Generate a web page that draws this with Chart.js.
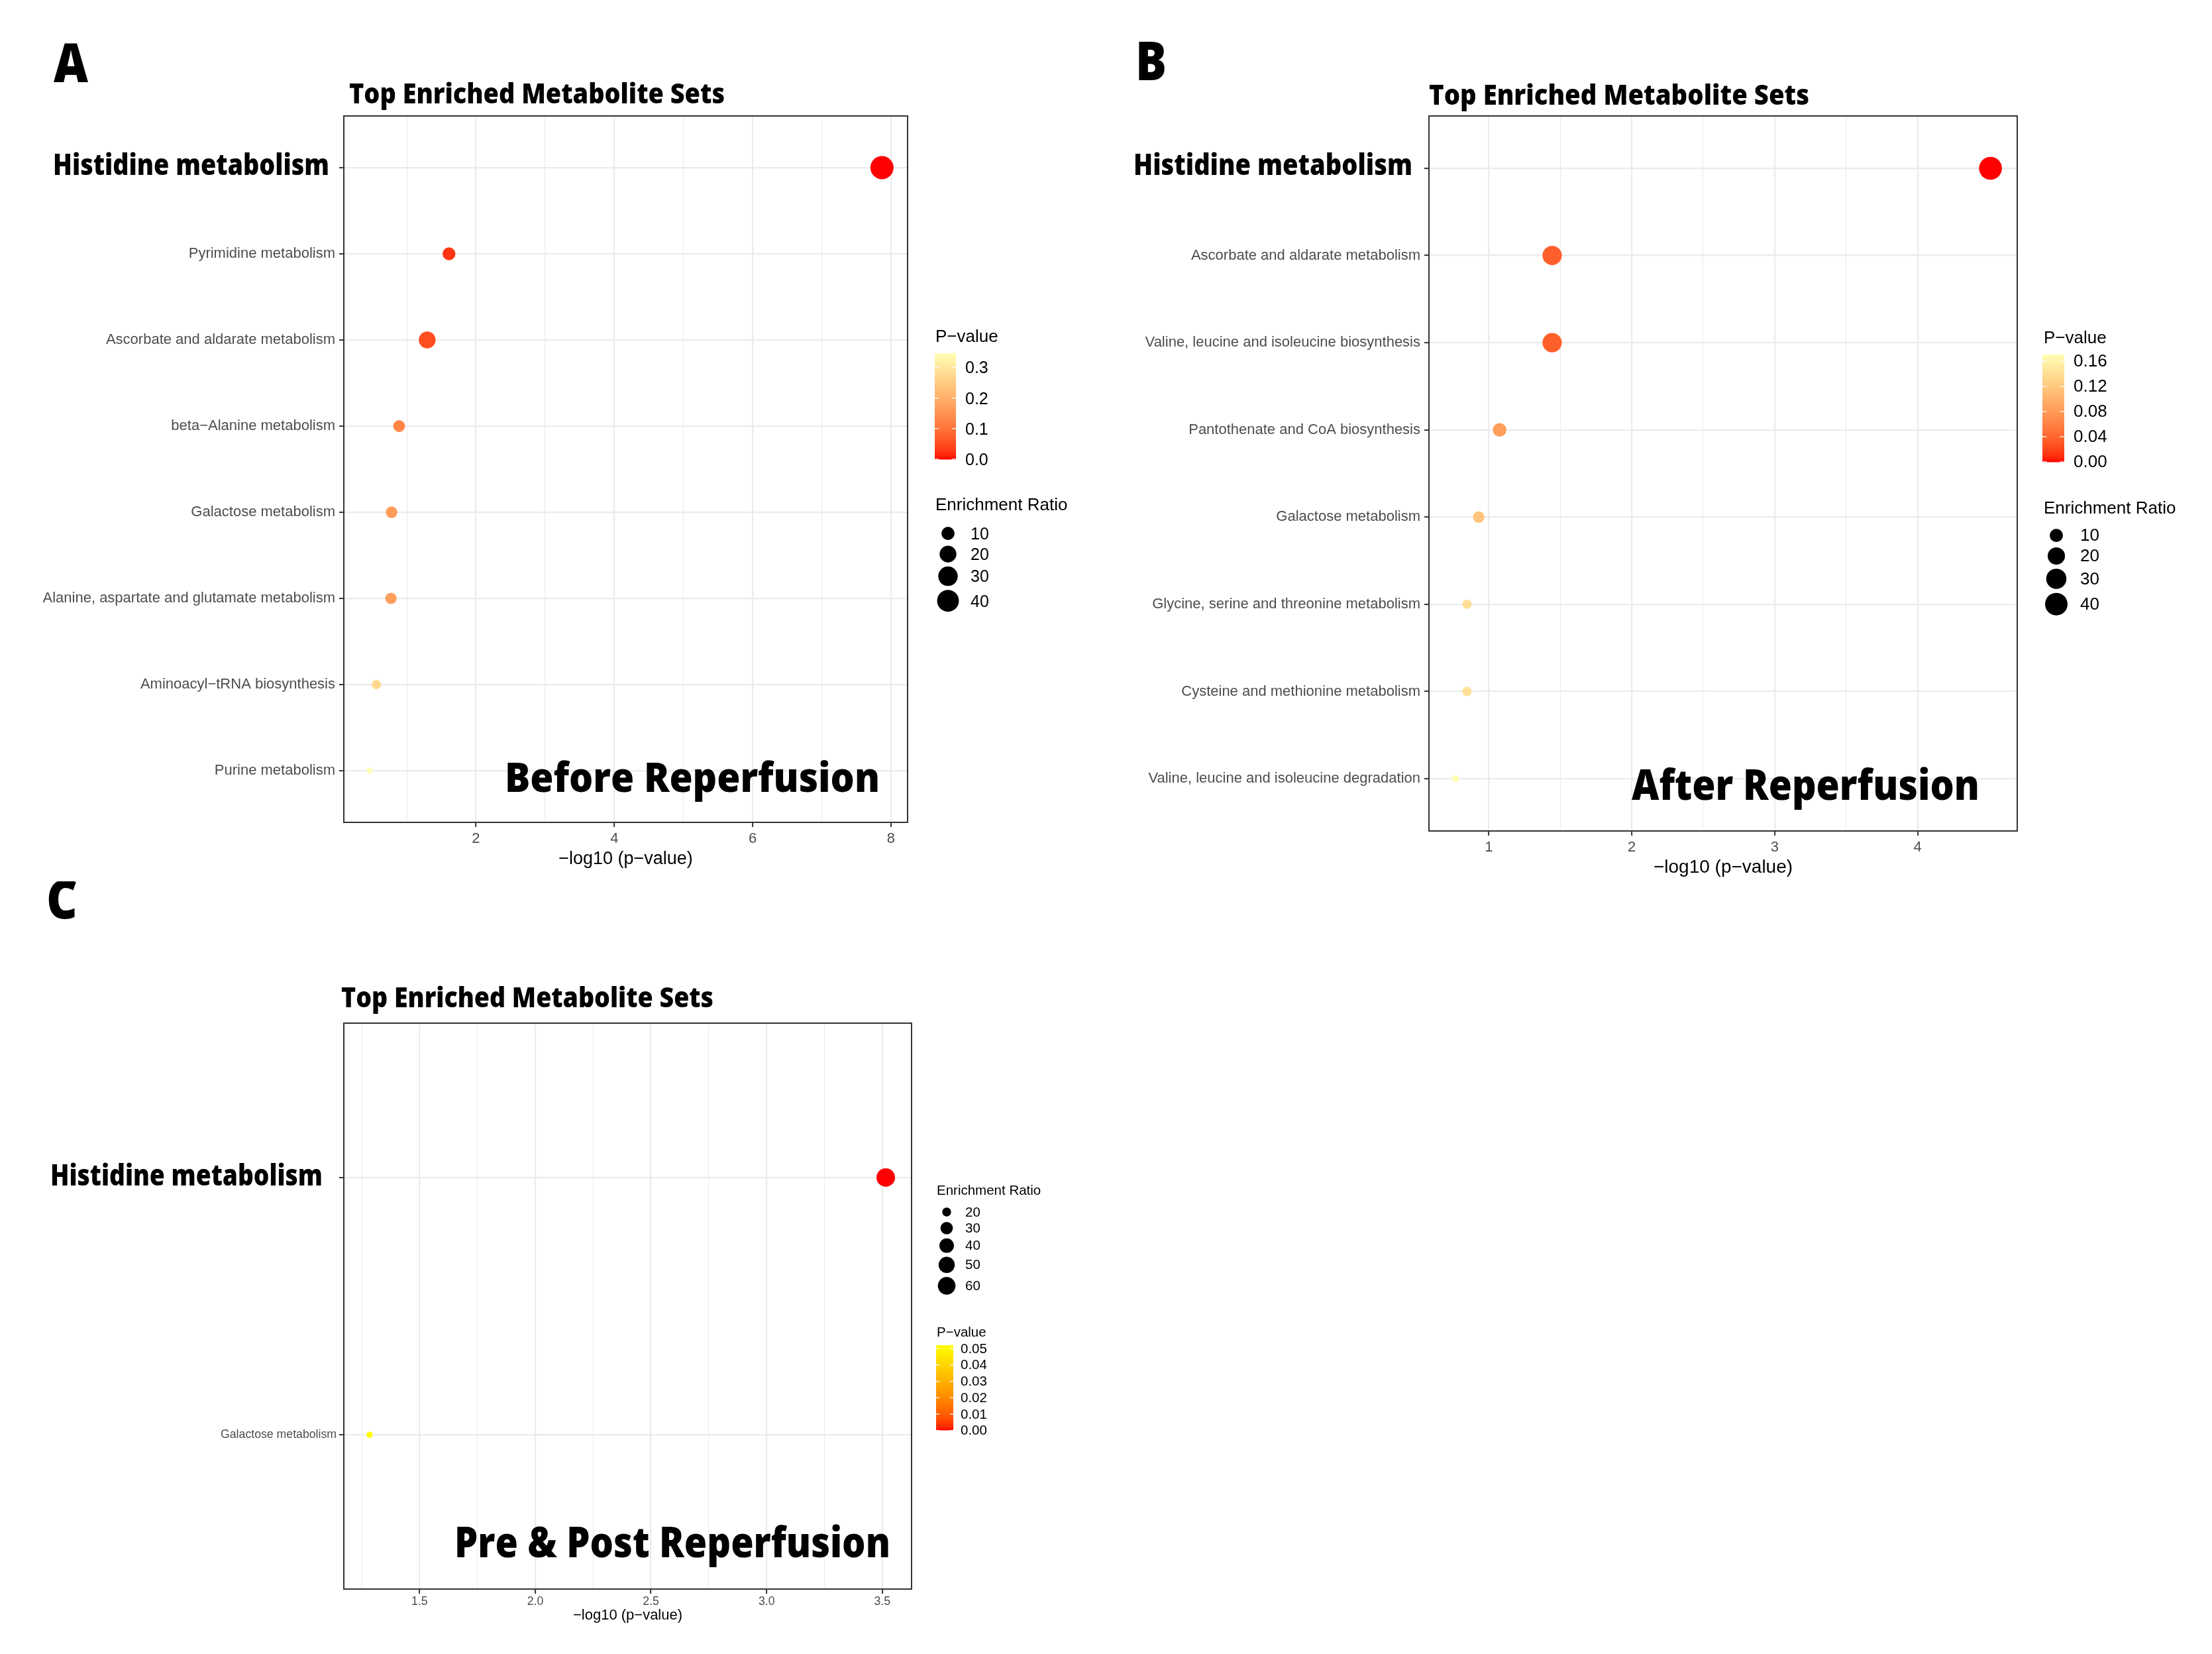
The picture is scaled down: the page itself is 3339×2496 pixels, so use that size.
<!DOCTYPE html>
<html>
<head>
<meta charset="utf-8">
<script src="https://cdn.jsdelivr.net/npm/chart.js@4.4.1/dist/chart.umd.min.js"></script>
<style>
  body { margin: 0; background: #fff; }
  #page { position: relative; width: 3339px; height: 2496px; overflow: hidden; background: #fff; }
  canvas { position: absolute; }
</style>
</head>
<body>
<div id="page">
  <canvas id="chartA" width="1669" height="1330" style="left:0px;top:0px"></canvas>
  <canvas id="chartB" width="1670" height="1340" style="left:1669px;top:0px"></canvas>
  <canvas id="chartC" width="1669" height="1166" style="left:0px;top:1330px"></canvas>
</div>
<script>
// data //////////////////////////////////////////////////////////////////////
// A : before reperfusion
const setsA = [
  'Histidine metabolism',
  'Pyrimidine metabolism',
  'Ascorbate and aldarate metabolism',
  'beta−Alanine metabolism',
  'Galactose metabolism',
  'Alanine, aspartate and glutamate metabolism',
  'Aminoacyl−tRNA biosynthesis',
  'Purine metabolism',
];
const logpA = [7.87, 1.61, 1.295, 0.889, 0.78, 0.771, 0.56, 0.46];
const enrichA = [47, 9.4, 20.1, 7.5, 6.8, 6.6, 3.6, 1.6];
const xTicksA = [2, 4, 6, 8];
const xLabelsA = ['2', '4', '6', '8'];
const xMinorA = [1, 3, 5, 7];
const pBreaksA = [0, 0.1, 0.2, 0.3];
const pLabelsA = ['0.0', '0.1', '0.2', '0.3'];
const sizeBreaksA = [10, 20, 30, 40];

// B : after reperfusion
const setsB = [
  'Histidine metabolism',
  'Ascorbate and aldarate metabolism',
  'Valine, leucine and isoleucine biosynthesis',
  'Pantothenate and CoA biosynthesis',
  'Galactose metabolism',
  'Glycine, serine and threonine metabolism',
  'Cysteine and methionine metabolism',
  'Valine, leucine and isoleucine degradation',
];
const logpB = [4.51, 1.443, 1.443, 1.075, 0.929, 0.847, 0.847, 0.768];
const enrichB = [41.8, 26.8, 26.8, 10.7, 7.2, 5.0, 5.0, 4.2];
const xTicksB = [1, 2, 3, 4];
const xLabelsB = ['1', '2', '3', '4'];
const xMinorB = [1.5, 2.5, 3.5];
const pBreaksB = [0, 0.04, 0.08, 0.12, 0.16];
const pLabelsB = ['0.00', '0.04', '0.08', '0.12', '0.16'];
const sizeBreaksB = [10, 20, 30, 40];

// C : pre & post
const setsC = ['Histidine metabolism', 'Galactose metabolism'];
const logpC = [3.515, 1.284];
const enrichC = [67, 17.7];
const xTicksC = [1.5, 2.0, 2.5, 3.0, 3.5];
const xLabelsC = ['1.5', '2.0', '2.5', '3.0', '3.5'];
const xMinorC = [1.25, 1.75, 2.25, 2.75, 3.25];
const pBreaksC = [0, 0.01, 0.02, 0.03, 0.04, 0.05];
const pLabelsC = ['0.00', '0.01', '0.02', '0.03', '0.04', '0.05'];
const sizeBreaksC = [20, 30, 40, 50, 60];

// helpers ///////////////////////////////////////////////////////////////////
const SANS = '"Liberation Sans", Arial, Helvetica, sans-serif';
const BOLD = '"Open Sans", "Liberation Sans", sans-serif';
const GRID = '#EBEBEB';
const DARK = '#333333';

// ggplot-like gradient, interpolated in Lab
function hexRgb(h) {
  return [1, 3, 5].map((i) => parseInt(h.substr(i, 2), 16));
}
function toLab(rgb) {
  const [r, g, b] = rgb.map((c) => {
    c /= 255;
    return c <= 0.04045 ? c / 12.92 : Math.pow((c + 0.055) / 1.055, 2.4);
  });
  const X = (0.4124 * r + 0.3576 * g + 0.1805 * b) / 0.95047;
  const Y = 0.2126 * r + 0.7152 * g + 0.0722 * b;
  const Z = (0.0193 * r + 0.1192 * g + 0.9505 * b) / 1.08883;
  const f = (t) => (t > 0.008856 ? Math.cbrt(t) : 7.787 * t + 16 / 116);
  const fx = f(X), fy = f(Y), fz = f(Z);
  return [116 * fy - 16, 500 * (fx - fy), 200 * (fy - fz)];
}
function fromLab([L, a, b]) {
  const fy = (L + 16) / 116, fx = fy + a / 500, fz = fy - b / 200;
  const fi = (t) => (t * t * t > 0.008856 ? t * t * t : (t - 16 / 116) / 7.787);
  const X = fi(fx) * 0.95047, Y = fi(fy), Z = fi(fz) * 1.08883;
  const r = 3.2406 * X - 1.5372 * Y - 0.4986 * Z;
  const g = -0.9689 * X + 1.8758 * Y + 0.0415 * Z;
  const bl = 0.0557 * X - 0.204 * Y + 1.057 * Z;
  const c = (v) => {
    v = v <= 0.0031308 ? 12.92 * v : 1.055 * Math.pow(v, 1 / 2.4) - 0.055;
    return Math.round(Math.min(1, Math.max(0, v)) * 255);
  };
  return `rgb(${c(r)},${c(g)},${c(bl)})`;
}
function makeRamp(low, high) {
  const a = toLab(hexRgb(low)), b = toLab(hexRgb(high));
  return (t) => fromLab(a.map((v, i) => v + (b[i] - v) * Math.min(1, Math.max(0, t))));
}

// bold condensed text, squeezed to the width it has in the figure
function fitText(ctx, text, x, y, w, size, align) {
  ctx.save();
  ctx.font = `800 ${size}px ${BOLD}`;
  ctx.fillStyle = '#000';
  ctx.textBaseline = 'alphabetic';
  ctx.textAlign = align || 'left';
  const m = ctx.measureText(text).width;
  ctx.translate(x, y);
  ctx.scale(w / m, 1);
  ctx.fillText(text, 0, 0);
  ctx.restore();
}

// 패널 하나 그리기
function makePanel(id, sets, logp, enrich, o) {
  const pv = logp.map((x) => Math.pow(10, -x));
  const pmin = Math.min(...pv), pmax = Math.max(...pv);
  const emin = Math.min(...enrich), emax = Math.max(...enrich);
  const ramp = makeRamp('#FF0000', o.high);
  const colour = (p) => ramp((p - pmin) / (pmax - pmin));
  const radius = (v) =>
    o.rMin + (o.rMax - o.rMin) * Math.sqrt(Math.max(0, (v - emin) / (emax - emin)));

  const lo = Math.min(...logp), hi = Math.max(...logp);
  const pad = 0.05 * (hi - lo);
  const xAll = o.xTicks.concat(o.xMinor);
  const isMajor = (v) => o.xTicks.some((t) => Math.abs(t - v) < 1e-9);

  const a = o.area;
  const axisH = o.axisTitleY - a.bottom + (o.axisTitleSize * 1.2) / 2;

  const decor = {
    id: 'decor_' + id,
    afterDatasetsDraw(chart) {
      const { ctx, chartArea: ca } = chart;
      ctx.save();
      ctx.strokeStyle = DARK;
      ctx.lineWidth = 2;
      ctx.strokeRect(ca.left, ca.top, ca.right - ca.left, ca.bottom - ca.top);
      ctx.restore();
    },
    afterDraw(chart) {
      const ctx = chart.ctx;
      fitText(ctx, o.letter.text, o.letter.x, o.letter.y, o.letter.w, o.letter.size);
      fitText(ctx, 'Top Enriched Metabolite Sets', o.title.x, o.title.y, o.title.w, o.title.size);
      const y1 = chart.scales.y.getPixelForValue(1);
      fitText(ctx, sets[0], o.big.x, y1 + o.big.dy, o.big.w, o.big.size, 'right');
      fitText(ctx, o.note.text, o.note.x, o.note.y, o.note.w, o.note.size);

      const L = o.legend;
      ctx.save();
      ctx.fillStyle = '#000';
      ctx.textAlign = 'left';

      // P-value colour bar
      ctx.font = `${L.titleSize}px ${SANS}`;
      ctx.textBaseline = 'alphabetic';
      ctx.fillText('P−value', L.pTitle[0], L.pTitle[1]);
      const [bx, by, bw, bh] = L.bar;
      for (let i = 0; i < bh; i++) {
        const t = 1 - (i + 0.5) / bh;
        ctx.fillStyle = colour(pmin + t * (pmax - pmin));
        ctx.fillRect(bx, by + i, bw, 1.5);
      }
      ctx.font = `${L.labelSize}px ${SANS}`;
      ctx.textBaseline = 'middle';
      o.pBreaks.forEach((b, i) => {
        const y = by + bh - ((b - pmin) / (pmax - pmin)) * bh;
        ctx.strokeStyle = 'rgba(255,255,255,0.85)';
        ctx.lineWidth = 1.5;
        ctx.beginPath();
        ctx.moveTo(bx, y);
        ctx.lineTo(bx + bw / 5, y);
        ctx.moveTo(bx + bw, y);
        ctx.lineTo(bx + bw - bw / 5, y);
        ctx.stroke();
        ctx.fillStyle = '#000';
        ctx.fillText(o.pLabels[i], L.pLabelX, y + L.labelDy);
      });

      // Enrichment ratio sizes
      ctx.font = `${L.titleSize}px ${SANS}`;
      ctx.textBaseline = 'alphabetic';
      ctx.fillText('Enrichment Ratio', L.sTitle[0], L.sTitle[1]);
      ctx.font = `${L.labelSize}px ${SANS}`;
      ctx.textBaseline = 'middle';
      let y = L.sFirstY;
      let prevH = null;
      o.sizeBreaks.forEach((v) => {
        const r = radius(v);
        const h = Math.max(L.keyMin, 2 * r + 6);
        if (prevH !== null) y += (prevH + h) / 2;
        prevH = h;
        ctx.beginPath();
        ctx.arc(L.cx, y, r, 0, Math.PI * 2);
        ctx.fillStyle = '#000';
        ctx.fill();
        ctx.fillText(String(v), L.sLabelX, y + L.labelDy);
      });
      ctx.restore();
    },
  };

  return new Chart(document.getElementById(id), {
    type: 'scatter',
    data: {
      datasets: [
        {
          data: logp.map((x, i) => ({ x, y: i + 1 })),
          pointRadius: (c) => radius(enrich[c.dataIndex]),
          pointHoverRadius: (c) => radius(enrich[c.dataIndex]),
          backgroundColor: (c) => colour(pv[c.dataIndex]),
          borderWidth: 0,
          pointBorderWidth: 0,
        },
      ],
    },
    options: {
      responsive: false,
      animation: false,
      events: [],
      layout: {
        autoPadding: false,
        padding: {
          left: 0,
          top: a.top,
          right: o.width - a.right,
          bottom: o.height - a.bottom - axisH,
        },
      },
      plugins: {
        legend: { display: false },
        tooltip: { enabled: false },
      },
      scales: {
        x: {
          type: 'linear',
          min: lo - pad,
          max: hi + pad,
          afterBuildTicks: (ax) => { ax.ticks = xAll.map((v) => ({ value: v })); },
          afterFit: (s) => { s.height = axisH; },
          ticks: {
            autoSkip: false,
            maxRotation: 0,
            padding: o.xTickPad,
            color: '#4D4D4D',
            font: { family: SANS, size: o.tickSize },
            callback: (v) => {
              const i = o.xTicks.findIndex((t) => Math.abs(t - v) < 1e-9);
              return i >= 0 ? o.xLabels[i] : '';
            },
          },
          grid: {
            color: GRID,
            lineWidth: (c) => (c.tick && isMajor(c.tick.value) ? 2.2 : 1.1),
            tickColor: (c) => (c.tick && isMajor(c.tick.value) ? DARK : 'rgba(0,0,0,0)'),
            tickLength: 7,
            tickWidth: 2,
          },
          border: { display: false },
          title: {
            display: true,
            text: '−log10 (p−value)',
            color: '#000',
            font: { family: SANS, size: o.axisTitleSize },
            padding: { top: 0, bottom: 0 },
          },
        },
        y: {
          type: 'linear',
          reverse: true,
          min: 0.4,
          max: sets.length + 0.6,
          afterBuildTicks: (ax) => { ax.ticks = sets.map((s, i) => ({ value: i + 1 })); },
          afterFit: (s) => { s.width = a.left; },
          ticks: {
            autoSkip: false,
            padding: o.yTickPad,
            color: '#4D4D4D',
            font: { family: SANS, size: o.labelSize },
            callback: (v) => (v === 1 ? '' : sets[v - 1]),
          },
          grid: {
            color: GRID,
            lineWidth: 2.2,
            tickColor: DARK,
            tickLength: 7,
            tickWidth: 2,
          },
          border: { display: false },
        },
      },
    },
    plugins: [decor],
  });
}

makePanel('chartA', setsA, logpA, enrichA, {
  width: 1669, height: 1330,
  area: { left: 519, top: 175, right: 1370, bottom: 1241 },
  xTicks: xTicksA, xLabels: xLabelsA, xMinor: xMinorA,
  pBreaks: pBreaksA, pLabels: pLabelsA, sizeBreaks: sizeBreaksA,
  high: '#FFFFB4', rMin: 4.2, rMax: 17.5,
  tickSize: 22, labelSize: 22, xTickPad: 5, yTickPad: 6,
  axisTitleSize: 27, axisTitleY: 1297,
  letter: { text: 'A', x: 81, y: 124, w: 52, size: 81 },
  title: { x: 527, y: 156, w: 567, size: 42 },
  big: { x: 497, dy: 11, w: 417, size: 45 },
  note: { text: 'Before Reperfusion', x: 762, y: 1195, w: 566, size: 62 },
  legend: {
    titleSize: 26, labelSize: 25, labelDy: 2,
    pTitle: [1412, 516], bar: [1411, 533, 32, 160], pLabelX: 1457,
    sTitle: [1412, 770], cx: 1431, sFirstY: 805, sLabelX: 1465, keyMin: 31,
  },
});

makePanel('chartB', setsB, logpB, enrichB, {
  width: 1670, height: 1340,
  area: { left: 488, top: 175, right: 1376, bottom: 1254 },
  xTicks: xTicksB, xLabels: xLabelsB, xMinor: xMinorB,
  pBreaks: pBreaksB, pLabels: pLabelsB, sizeBreaks: sizeBreaksB,
  high: '#FFFFB4', rMin: 5.3, rMax: 17.3,
  tickSize: 22, labelSize: 22, xTickPad: 5, yTickPad: 6,
  axisTitleSize: 28, axisTitleY: 1309,
  letter: { text: 'B', x: 45, y: 121, w: 47, size: 81 },
  title: { x: 488, y: 158, w: 574, size: 42 },
  big: { x: 463, dy: 10, w: 421, size: 45 },
  note: { text: 'After Reperfusion', x: 794, y: 1207, w: 525, size: 63 },
  legend: {
    titleSize: 26, labelSize: 26, labelDy: 1,
    pTitle: [1416, 518], bar: [1414, 535, 33, 162], pLabelX: 1461,
    sTitle: [1416, 775], cx: 1435, sFirstY: 808, sLabelX: 1471, keyMin: 30,
  },
});

makePanel('chartC', setsC, logpC, enrichC, {
  width: 1669, height: 1166,
  area: { left: 519, top: 214, right: 1376, bottom: 1068 },
  xTicks: xTicksC, xLabels: xLabelsC, xMinor: xMinorC,
  pBreaks: pBreaksC, pLabels: pLabelsC, sizeBreaks: sizeBreaksC,
  high: '#FFFF00', rMin: 4.7, rMax: 14,
  tickSize: 17.7, labelSize: 17.7, xTickPad: 1, yTickPad: 4,
  axisTitleSize: 22, axisTitleY: 1108,
  letter: { text: 'C', x: 70, y: 56, w: 47, size: 82 },
  title: { x: 515, y: 190, w: 562, size: 42 },
  big: { x: 487, dy: 12, w: 411, size: 44 },
  note: { text: 'Pre & Post Reperfusion', x: 686, y: 1020, w: 658, size: 63 },
  legend: {
    titleSize: 20.5, labelSize: 20.5, labelDy: 1,
    pTitle: [1414, 687], bar: [1413, 700, 26, 128], pLabelX: 1450,
    sTitle: [1414, 473], cx: 1429, sFirstY: 499, sLabelX: 1457, keyMin: 24,
  },
});
</script>
</body>
</html>
